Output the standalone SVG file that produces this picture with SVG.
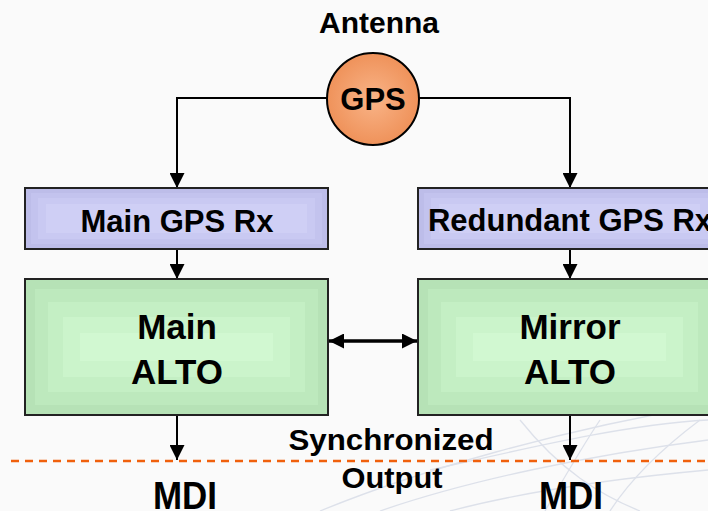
<svg xmlns="http://www.w3.org/2000/svg" width="708" height="511" viewBox="0 0 708 511">
<style>
text{font-family:"Liberation Sans",Arial,sans-serif;font-weight:bold;fill:#000;text-anchor:middle}
.box{stroke:#222;stroke-width:2}
.g1{fill:#b6e2b6}.g2{fill:#bde9bd}.g3{fill:#c4efc4}.g4{fill:#cbf4cb}.g5{fill:#d1f8d1}
.b1{fill:#bdbde9}.b2{fill:#c3c3ee}.b3{fill:#c9c9f2}.b4{fill:#cfcff5}
.conn{stroke:#000;stroke-width:2;fill:none}
.swoosh{stroke:#dde1ea;stroke-width:1.3;fill:none}
</style>
<defs>
<marker id="ah" markerUnits="userSpaceOnUse" markerWidth="15" markerHeight="15" refX="15" refY="7.5" orient="auto-start-reverse">
<path d="M0,0 L15,7.5 L0,15 z" fill="#000"/>
</marker>
<radialGradient id="org" cx="50%" cy="50%" r="50%">
<stop offset="0" stop-color="#f9b488"/>
<stop offset="1" stop-color="#ef925a"/>
</radialGradient>
</defs>
<rect width="708" height="511" fill="#fafafa"/>
<g id="background">
<path class="swoosh" d="M320,511 C420,470 560,430 708,405"/>
<path class="swoosh" d="M380,511 C470,480 590,455 708,440"/>
<path class="swoosh" d="M450,511 C530,490 620,478 708,470"/>
<path class="swoosh" d="M520,420 C560,470 600,495 640,511"/>
<path class="swoosh" d="M600,420 C580,450 560,485 545,511"/>
<path class="swoosh" d="M700,420 C660,450 630,480 610,511"/>
<path class="swoosh" d="M430,470 C520,450 620,425 708,420"/>
</g>
<g id="connectors">
<path class="conn" d="M327,98 H177 V188" marker-end="url(#ah)"/>
<path class="conn" d="M419,98 H570 V188" marker-end="url(#ah)"/>
<path class="conn" d="M177,249 V279" marker-end="url(#ah)"/>
<path class="conn" d="M570,249 V279" marker-end="url(#ah)"/>
<path class="conn" d="M329,341 H417" style="stroke-width:3.5" marker-start="url(#ah)" marker-end="url(#ah)"/>
<path class="conn" d="M177,415 V460" marker-end="url(#ah)"/>
<path class="conn" d="M570,415 V460" marker-end="url(#ah)"/>
<line x1="11" y1="461" x2="708" y2="461" stroke="#f0600c" stroke-width="2.5" stroke-dasharray="8,6"/>
</g>
<g id="antenna-label"><text x="379" y="33" font-size="30">Antenna</text></g>
<g id="gps">
<circle cx="373" cy="99" r="46" fill="url(#org)" stroke="#000" stroke-width="2"/>
<text x="373" y="110" font-size="31">GPS</text>
</g>
<g id="main-gps-rx">
<rect class="b1" x="25" y="188" width="303" height="61"/>
<rect class="b2" x="31" y="193" width="291" height="51"/>
<rect class="b3" x="38" y="198" width="277" height="41"/>
<rect class="b4" x="46" y="204" width="261" height="29"/>
<rect class="box" x="25" y="188" width="303" height="61" fill="none"/>
<text x="177" y="232" font-size="31">Main GPS Rx</text>
</g>
<g id="redundant-gps-rx">
<rect class="b1" x="418" y="188" width="303" height="61"/>
<rect class="b2" x="424" y="193" width="291" height="51"/>
<rect class="b3" x="431" y="198" width="277" height="41"/>
<rect class="b4" x="439" y="204" width="261" height="29"/>
<rect class="box" x="418" y="188" width="303" height="61" fill="none"/>
<text x="570" y="231" font-size="31">Redundant GPS Rx</text>
</g>
<g id="main-alto">
<rect class="g1" x="25" y="279" width="303" height="136"/>
<rect class="g2" x="35" y="289" width="283" height="116"/>
<rect class="g3" x="48" y="302" width="257" height="90"/>
<rect class="g4" x="63" y="317" width="227" height="60"/>
<rect class="g5" x="80" y="333" width="193" height="28"/>
<rect class="box" x="25" y="279" width="303" height="136" fill="none"/>
<text x="177" y="339" font-size="35">Main</text>
<text x="177" y="384" font-size="35">ALTO</text>
</g>
<g id="mirror-alto">
<rect class="g1" x="418" y="279" width="303" height="136"/>
<rect class="g2" x="428" y="289" width="283" height="116"/>
<rect class="g3" x="441" y="302" width="257" height="90"/>
<rect class="g4" x="456" y="317" width="227" height="60"/>
<rect class="g5" x="473" y="333" width="193" height="28"/>
<rect class="box" x="418" y="279" width="303" height="136" fill="none"/>
<text x="570" y="339" font-size="35">Mirror</text>
<text x="570" y="384" font-size="35">ALTO</text>
</g>
<g id="sync-label">
<text x="391" y="450" font-size="30" textLength="205" lengthAdjust="spacingAndGlyphs">Synchronized</text>
<text x="392" y="488" font-size="30" textLength="101" lengthAdjust="spacingAndGlyphs">Output</text>
</g>
<g id="mdi-left"><text x="185" y="509" font-size="39" textLength="64" lengthAdjust="spacingAndGlyphs">MDI</text></g>
<g id="mdi-right"><text x="571" y="509" font-size="39" textLength="64" lengthAdjust="spacingAndGlyphs">MDI</text></g>
</svg>
